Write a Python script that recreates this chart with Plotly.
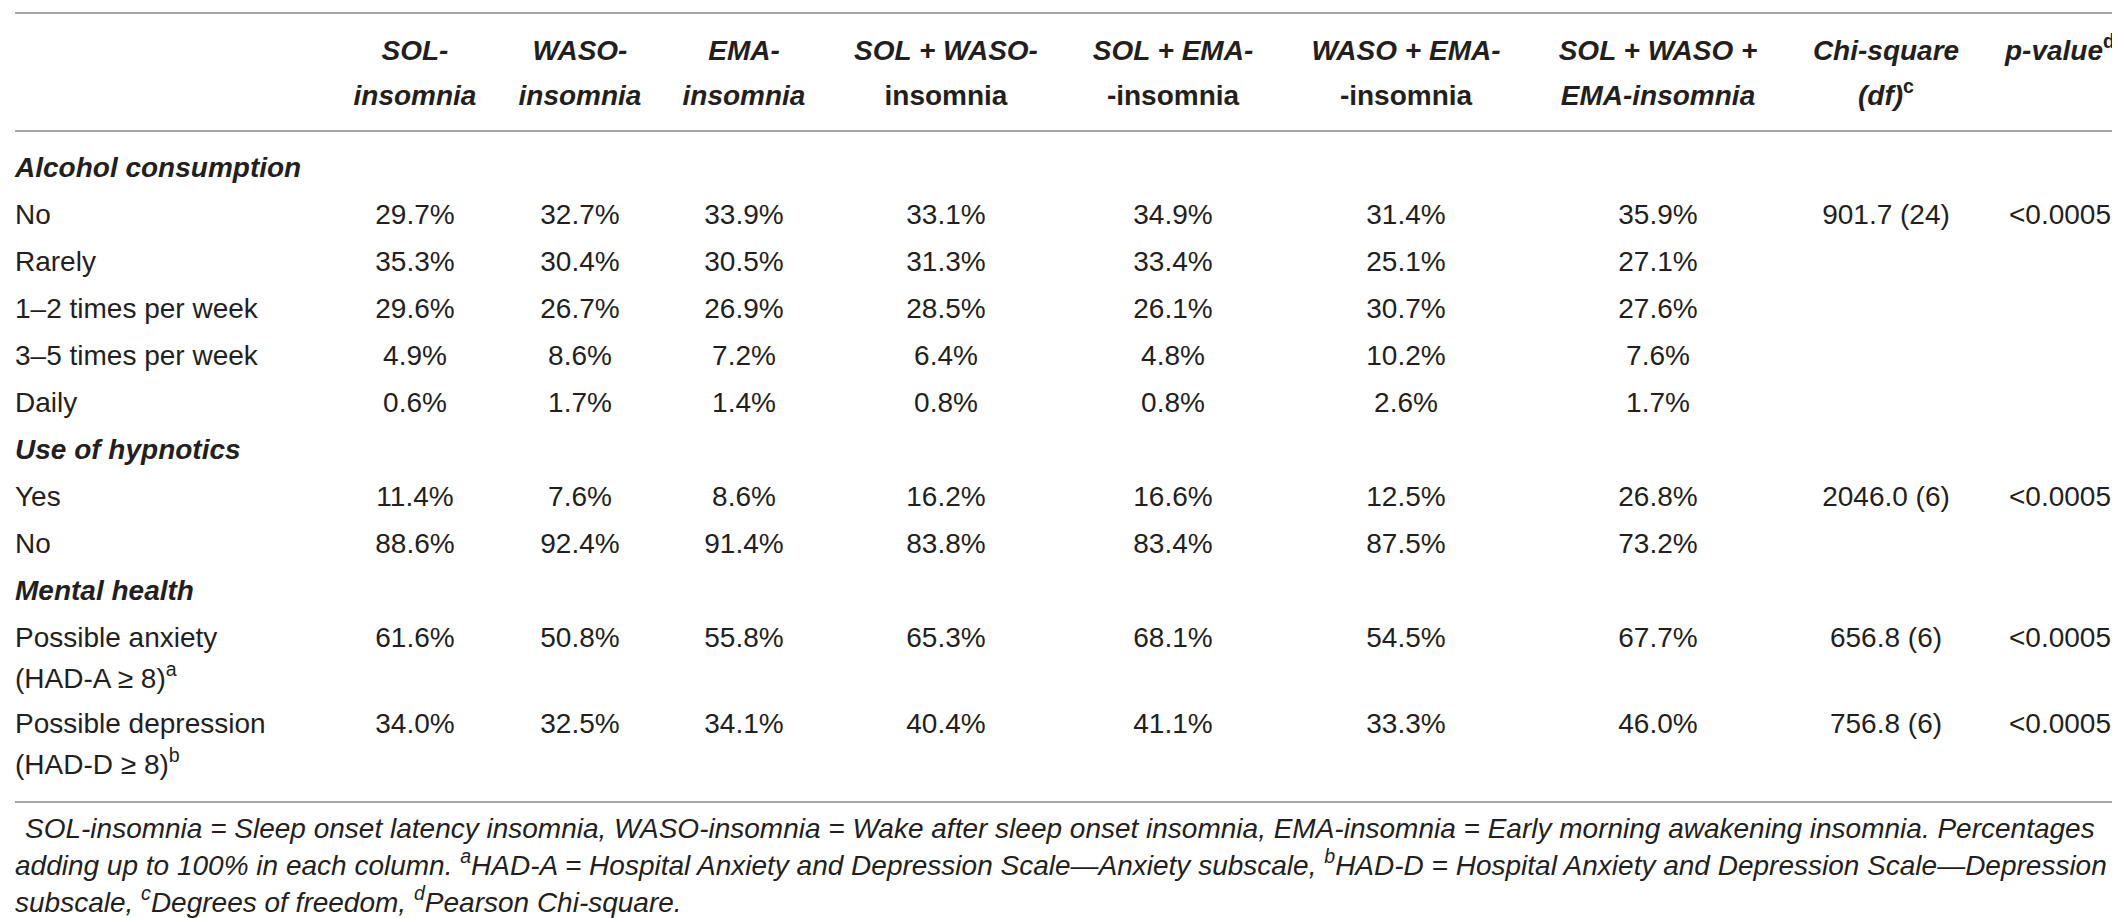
import plotly.graph_objects as go

# column headers (two lines each)
header_top = ["<b><i>SOL-</i></b>", "<b><i>WASO-</i></b>", "<b><i>EMA-</i></b>",
              "<b><i>SOL + WASO-</i></b>", "<b><i>SOL + EMA-</i></b>", "<b><i>WASO + EMA-</i></b>",
              "<b><i>SOL + WASO +</i></b>", "<b><i>Chi-square</i></b>", "<b><i>p-value</i><sup>d</sup></b>"]
header_bottom = ["<b><i>insomnia</i></b>", "<b><i>insomnia</i></b>", "<b><i>insomnia</i></b>",
                 "<b>insomnia</b>", "<b>-insomnia</b>", "<b>-insomnia</b>",
                 "<b><i>EMA-insomnia</i></b>", "<b><i>(df)</i><sup>c</sup></b>", ""]

row_labels = ["<b><i>Alcohol consumption</i></b>", "No", "Rarely", "1–2 times per week",
              "3–5 times per week", "Daily", "<b><i>Use of hypnotics</i></b>", "Yes", "No",
              "<b><i>Mental health</i></b>", "Possible anxiety|(HAD-A ≥ 8)<sup>a</sup>",
              "Possible depression|(HAD-D ≥ 8)<sup>b</sup>"]

sol = ["", "29.7%", "35.3%", "29.6%", "4.9%", "0.6%", "", "11.4%", "88.6%", "", "61.6%", "34.0%"]
waso = ["", "32.7%", "30.4%", "26.7%", "8.6%", "1.7%", "", "7.6%", "92.4%", "", "50.8%", "32.5%"]
ema = ["", "33.9%", "30.5%", "26.9%", "7.2%", "1.4%", "", "8.6%", "91.4%", "", "55.8%", "34.1%"]
sol_waso = ["", "33.1%", "31.3%", "28.5%", "6.4%", "0.8%", "", "16.2%", "83.8%", "", "65.3%", "40.4%"]
sol_ema = ["", "34.9%", "33.4%", "26.1%", "4.8%", "0.8%", "", "16.6%", "83.4%", "", "68.1%", "41.1%"]
waso_ema = ["", "31.4%", "25.1%", "30.7%", "10.2%", "2.6%", "", "12.5%", "87.5%", "", "54.5%", "33.3%"]
all_three = ["", "35.9%", "27.1%", "27.6%", "7.6%", "1.7%", "", "26.8%", "73.2%", "", "67.7%", "46.0%"]
chi_square = ["", "901.7 (24)", "", "", "", "", "", "2046.0 (6)", "", "", "656.8 (6)", "756.8 (6)"]
p_value = ["", "&lt;0.0005", "", "", "", "", "", "&lt;0.0005", "", "", "&lt;0.0005", "&lt;0.0005"]

footnotes = [
    "<i>SOL-insomnia = Sleep onset latency insomnia, WASO-insomnia = Wake after sleep onset insomnia, "
    "EMA-insomnia = Early morning awakening insomnia. Percentages</i>",
    "<i>adding up to 100% in each column. <sup>a</sup>HAD-A = Hospital Anxiety and Depression Scale—Anxiety "
    "subscale, <sup>b</sup>HAD-D = Hospital Anxiety and Depression Scale—Depression</i>",
    "<i>subscale, <sup>c</sup>Degrees of freedom, <sup>d</sup>Pearson Chi-square.</i>",
]

value_cols = [sol, waso, ema, sol_waso, sol_ema, waso_ema, all_three, chi_square, p_value]
col_x = [407, 572, 736, 938, 1165, 1398, 1650, 1878, 2052]

W, H = 2120, 918
FONT = "Liberation Sans"
TXT = "#231f20"
SIZE = 28

# row positions
row_y = []
y = 162
for lab in row_labels:
    row_y.append(y)
    y += 86 if "|" in lab else 47

fig = go.Figure()

# header
for cx, top, bot in zip(col_x, header_top, header_bottom):
    hy = [yy for yy, t in zip([45, 90], [top, bot]) if t]
    ht = [t for t in [top, bot] if t]
    fig.add_trace(go.Scatter(x=[cx] * len(ht), y=hy, text=ht, mode="text",
                             textposition="middle center",
                             textfont=dict(family=FONT, size=SIZE, color=TXT)))

# row labels
lab_x, lab_y, lab_t = [], [], []
for lab, ry in zip(row_labels, row_y):
    parts = lab.split("|")
    for k, p in enumerate(parts):
        lab_x.append(7)
        lab_y.append(ry + 41 * k)
        lab_t.append(p)
fig.add_trace(go.Scatter(x=lab_x, y=lab_y, text=lab_t, mode="text", textposition="middle right",
                         textfont=dict(family=FONT, size=SIZE, color=TXT)))

# values
for cx, vals in zip(col_x, value_cols):
    vy = [ry for ry, v in zip(row_y, vals) if v]
    vt = [v for v in vals if v]
    fig.add_trace(go.Scatter(x=[cx] * len(vt), y=vy, text=vt, mode="text",
                             textposition="middle center",
                             textfont=dict(family=FONT, size=SIZE, color=TXT)))

# footnote
fig.add_trace(go.Scatter(x=[17, 7, 7], y=[823, 860, 897], text=footnotes, mode="text",
                         textposition="middle right",
                         textfont=dict(family=FONT, size=28, color=TXT)))

# rules
for ly in [5, 123, 794]:
    fig.add_shape(type="line", x0=7, x1=2111, y0=ly, y1=ly, line=dict(color="#a6a6a6", width=2))

fig.update_layout(width=W, height=H, margin=dict(l=0, r=0, t=0, b=0), showlegend=False,
                  plot_bgcolor="white", paper_bgcolor="white", hovermode=False)
fig.update_xaxes(range=[0, W], visible=False, fixedrange=True)
fig.update_yaxes(range=[H, 0], visible=False, fixedrange=True)

fig.write_html("out.html")
